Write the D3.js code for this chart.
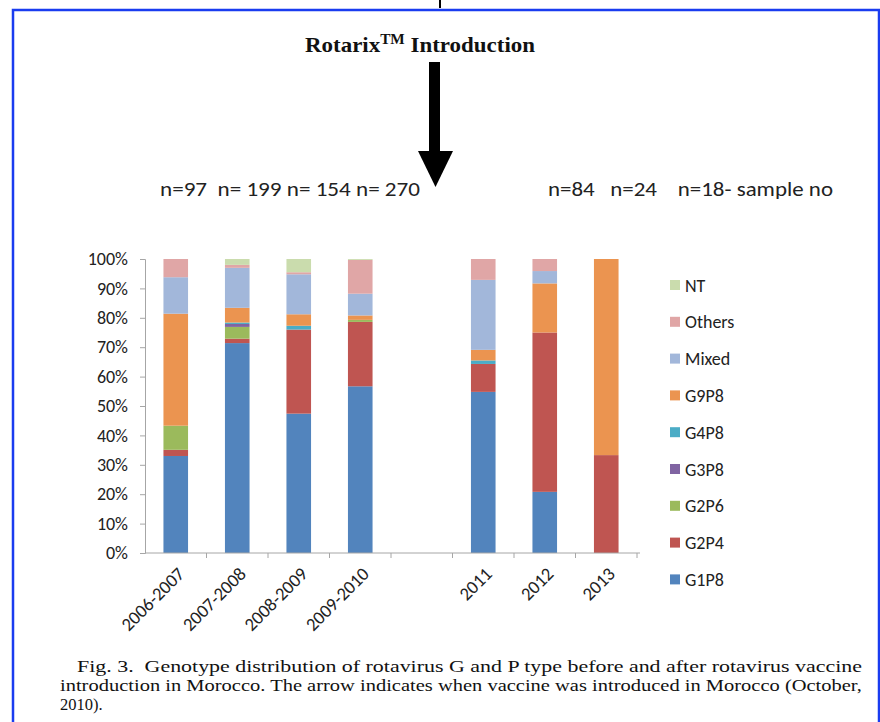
<!DOCTYPE html>
<html>
<head>
<meta charset="utf-8">
<script src="https://cdn.jsdelivr.net/npm/d3@7"></script>
<style>
  body { margin: 0; background: #fff; }
  svg { display: block; }
  .tick-label, .legend text, .sample { font-family: Carlito, Calibri, "Open Sans", sans-serif; fill: #222; }
  .caption { font-family: "Liberation Serif", "DejaVu Serif", serif; font-size: 16.5px; fill: #111; }
</style>
</head>
<body>
<svg id="chart" width="880" height="722"></svg>
<script>
'use strict';

// seasons on the x axis; "gap" is the empty slot where the vaccine came in
var categories = ['2006-2007', '2007-2008', '2008-2009', '2009-2010', 'gap', '2011', '2012', '2013'];

// percent of samples per genotype, per season
var G1P8   = [33.0, 71.4, 47.4, 56.7, 0, 54.8, 20.8, 0];
var G2P4   = [2.1, 1.5, 28.6, 21.9, 0, 9.5, 54.2, 33.3];
var G2P6   = [8.2, 4.0, 0, 0.7, 0, 0, 0, 0];
var G3P8   = [0, 1.0, 0, 0, 0, 0, 0, 0];
var G4P8   = [0, 0.5, 1.3, 0, 0, 1.2, 0, 0];
var G9P8   = [38.1, 5.0, 3.9, 1.5, 0, 3.6, 16.7, 66.7];
var Mixed  = [12.4, 13.6, 13.6, 7.4, 0, 23.8, 4.2, 0];
var Others = [6.2, 1.0, 0.7, 11.5, 0, 7.1, 4.1, 0];
var NT     = [0, 2.0, 4.5, 0.3, 0, 0, 0, 0];

var seriesNames = ['G1P8', 'G2P4', 'G2P6', 'G3P8', 'G4P8', 'G9P8', 'Mixed', 'Others', 'NT'];
var seriesValues = [G1P8, G2P4, G2P6, G3P8, G4P8, G9P8, Mixed, Others, NT];
var seriesColors = ['#5284bd', '#bf5551', '#9bba5c', '#8064a2', '#4bacc6', '#eb9450', '#a2b7da', '#e0a6a6', '#cadcad'];

var yTicks = [0, 10, 20, 30, 40, 50, 60, 70, 80, 90, 100];
var sampleLeft = 'n=97  n= 199 n= 154 n= 270';
var sampleRight = 'n=84   n=24    n=18- sample no';

var svg = d3.select('#chart');

// blue frame round the figure
svg.append('rect')
  .attr('x', 13).attr('y', 10)
  .attr('width', 866).attr('height', 720)
  .attr('fill', 'none').attr('stroke', '#1a3cf0').attr('stroke-width', 2.5);
svg.append('line')
  .attr('x1', 440).attr('x2', 440).attr('y1', 0).attr('y2', 8)
  .attr('stroke', '#000').attr('stroke-width', 2);

// title + arrow
var title = svg.append('text')
  .attr('x', 305).attr('y', 52)
  .attr('font-family', '"Liberation Serif", "Times New Roman", serif')
  .attr('font-weight', 'bold').attr('font-size', 21).attr('fill', '#111')
  .attr('textLength', 230).attr('lengthAdjust', 'spacingAndGlyphs');
title.append('tspan').text('Rotarix');
title.append('tspan').attr('dy', -8).attr('font-size', 14).text('TM');
title.append('tspan').attr('dy', 8).text(' Introduction');

svg.append('rect').attr('x', 429).attr('y', 62).attr('width', 11).attr('height', 92).attr('fill', '#000');
svg.append('path').attr('d', 'M418,151 L453,151 L435.5,187 Z').attr('fill', '#000');

svg.append('text').attr('class', 'sample')
  .attr('x', 160).attr('y', 196).attr('font-size', 21)
  .attr('xml:space', 'preserve')
  .attr('textLength', 260).attr('lengthAdjust', 'spacingAndGlyphs')
  .text(sampleLeft);
svg.append('text').attr('class', 'sample')
  .attr('x', 548).attr('y', 196).attr('font-size', 21)
  .attr('xml:space', 'preserve')
  .attr('textLength', 285).attr('lengthAdjust', 'spacingAndGlyphs')
  .text(sampleRight);

// scales
var x = d3.scaleBand().domain(categories).range([145, 637]).paddingInner(0.6).paddingOuter(0.3);
var y = d3.scaleLinear().domain([0, 100]).range([553, 259]);

var rows = categories.map(function(c, i) {
  var row = { cat: c };
  seriesNames.forEach(function(s, j) { row[s] = seriesValues[j][i]; });
  return row;
});
var stacked = d3.stack().keys(seriesNames)(rows);

svg.append('g').selectAll('g')
  .data(stacked)
  .enter().append('g')
    .attr('fill', function(d, i) { return seriesColors[i]; })
  .selectAll('rect')
  .data(function(d) { return d.filter(function(p) { return p[1] - p[0] > 0; }); })
  .enter().append('rect')
    .attr('x', function(d) { return x(d.data.cat); })
    .attr('width', x.bandwidth())
    .attr('y', function(d) { return y(d[1]); })
    .attr('height', function(d) { return y(d[0]) - y(d[1]); });

// y axis
var yAxis = svg.append('g')
  .attr('transform', 'translate(145,0)')
  .call(d3.axisLeft(y).tickValues(yTicks).tickSize(5).tickPadding(12)
    .tickFormat(function(d) { return d + '%'; }));
yAxis.selectAll('path, line').attr('stroke', '#a6a6a6');
yAxis.selectAll('text').attr('class', 'tick-label').attr('font-size', 18);

// x axis: line, boundary ticks and slanted labels
var step = x.step();
svg.append('line')
  .attr('x1', 145).attr('x2', 640).attr('y1', 553).attr('y2', 553)
  .attr('stroke', '#a6a6a6');
svg.append('g').selectAll('line')
  .data(categories)
  .enter().append('line')
    .attr('x1', function(d) { return x(d) + x.bandwidth() / 2 + step / 2; })
    .attr('x2', function(d) { return x(d) + x.bandwidth() / 2 + step / 2; })
    .attr('y1', 553).attr('y2', 558)
    .attr('stroke', '#a6a6a6');
svg.append('g').selectAll('text')
  .data(categories.filter(function(c) { return c !== 'gap'; }))
  .enter().append('text')
    .attr('class', 'tick-label')
    .attr('font-size', 18.5)
    .attr('text-anchor', 'end')
    .attr('transform', function(d) {
      return 'translate(' + (x(d) + x.bandwidth() / 2 + 10) + ',575) rotate(-45)';
    })
    .text(function(d) { return d; });

// legend, top entry is the top of the stack
var legend = svg.append('g').attr('class', 'legend');
var legendItems = legend.selectAll('g')
  .data(seriesNames.slice().reverse())
  .enter().append('g')
    .attr('transform', function(d, i) { return 'translate(670,' + (280 + i * 36.8) + ')'; });
legendItems.append('rect')
  .attr('width', 10).attr('height', 10)
  .attr('fill', function(d) { return seriesColors[seriesNames.indexOf(d)]; });
legendItems.append('text')
  .attr('x', 15).attr('y', 11.5).attr('font-size', 18)
  .text(function(d) { return d; });

// caption
svg.append('text').attr('class', 'caption')
  .attr('x', 77).attr('y', 672)
  .attr('xml:space', 'preserve')
  .attr('textLength', 785).attr('lengthAdjust', 'spacingAndGlyphs')
  .text('Fig. 3.  Genotype distribution of rotavirus G and P type before and after rotavirus vaccine');
svg.append('text').attr('class', 'caption')
  .attr('x', 60).attr('y', 691)
  .attr('textLength', 802).attr('lengthAdjust', 'spacingAndGlyphs')
  .text('introduction in Morocco. The arrow indicates when vaccine was introduced in Morocco (October,');
svg.append('text').attr('class', 'caption')
  .attr('x', 60).attr('y', 710)
  .text('2010).');
</script>
</body>
</html>
